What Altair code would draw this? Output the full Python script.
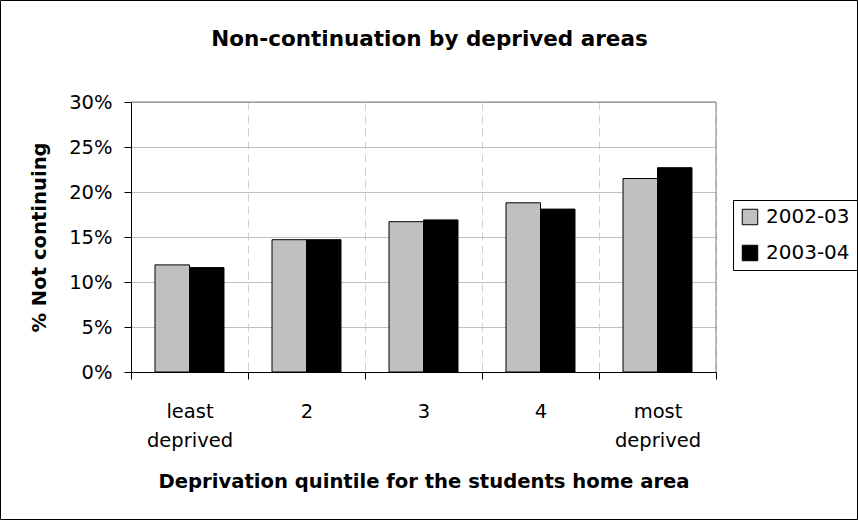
import altair as alt
import pandas as pd

# Non-continuation rates by deprivation quintile of the students' home area
quintiles = ["least deprived", "2", "3", "4", "most deprived"]
years = ["2002-03", "2003-04"]
rate_2002_03 = [0.119, 0.147, 0.167, 0.188, 0.215]
rate_2003_04 = [0.116, 0.147, 0.169, 0.181, 0.227]
y_ticks = [0, 0.05, 0.10, 0.15, 0.20, 0.25, 0.30]

rows = []
for q, a, b in zip(quintiles, rate_2002_03, rate_2003_04):
    rows.append({"quintile": q, "year": years[0], "rate": a})
    rows.append({"quintile": q, "year": years[1], "rate": b})
df = pd.DataFrame(rows)

FONT = "DejaVu Sans"
W, H = 585, 270
PAD = {"left": 131, "top": 102, "right": 142, "bottom": 148}

bars = alt.Chart(df).mark_bar(stroke="black", strokeWidth=1).encode(
    x=alt.X(
        "quintile:N",
        sort=quintiles,
        scale=alt.Scale(paddingInner=0, paddingOuter=0),
        axis=alt.Axis(
            title="Deprivation quintile for the students home area",
            labelAngle=0,
            labelExpr="split(datum.label, ' ')",
            labelLineHeight=29,
            labelPadding=23,
            tickBand="extent",
            grid=True,
            gridDash=[8, 5],
            gridColor="#d0d0d0",
            titleY=115,
            titleBaseline="alphabetic",
        ),
    ),
    xOffset=alt.XOffset(
        "year:N", sort=years, scale=alt.Scale(paddingInner=0, paddingOuter=0.696)
    ),
    y=alt.Y(
        "rate:Q",
        scale=alt.Scale(domain=[0, 0.3], nice=False),
        axis=alt.Axis(
            title="% Not continuing",
            format=".0%",
            values=y_ticks,
            grid=True,
            gridColor="#c0c0c0",
            labelPadding=12,
            titleX=-86,
            titleY=H / 2,
            titleAngle=270,
            titleAlign="center",
            titleBaseline="alphabetic",
        ),
    ),
    color=alt.Color(
        "year:N",
        scale=alt.Scale(domain=years, range=["#c0c0c0", "#000000"]),
        legend=alt.Legend(
            title=None,
            orient="none",
            legendX=602,
            legendY=98,
            padding=7,
            strokeColor="black",
            fillColor="white",
            symbolType="square",
            symbolSize=240,
            symbolStrokeColor="black",
            symbolStrokeWidth=1,
            labelFont=FONT,
            labelFontSize=20,
            labelColor="black",
            labelOffset=6,
            rowPadding=16,
        ),
    ),
)

frame = alt.Chart(alt.Data(values=[{"k": 1}]))

# top and right edges of the plot area
plot_top = frame.mark_rule(color="#808080", strokeWidth=1).encode(
    x=alt.value(0), x2=alt.value(W), y=alt.value(0)
)
plot_right = frame.mark_rule(color="#808080", strokeWidth=1).encode(
    x=alt.value(W), y=alt.value(0), y2=alt.value(H)
)
# border around the whole chart
outer = frame.mark_rect(fillOpacity=0, stroke="black", strokeWidth=1).encode(
    x=alt.value(-PAD["left"] + 0.5),
    x2=alt.value(W + PAD["right"] - 0.5),
    y=alt.value(-PAD["top"] + 0.5),
    y2=alt.value(H + PAD["bottom"] - 0.5),
)

chart = (
    alt.layer(bars, plot_top, plot_right, outer)
    .properties(
        width=W,
        height=H,
        padding=PAD,
        autosize=alt.AutoSizeParams(type="none"),
        background="white",
        title=alt.TitleParams(
            "Non-continuation by deprived areas",
            font=FONT,
            fontSize=21.5,
            fontWeight="bold",
            color="black",
            anchor="middle",
            dx=6,
            dy=85,
            baseline="alphabetic",
            offset=18,
        ),
    )
    .configure_view(stroke="transparent")
    .configure_axis(
        domainColor="black",
        tickColor="black",
        tickSize=7,
        labelFont=FONT,
        labelFontSize=19.5,
        labelColor="black",
        titleFont=FONT,
        titleFontSize=19.6,
        titleFontWeight="bold",
        titleColor="black",
    )
)

chart.save("out.html", embed_options={"renderer": "svg", "actions": False})
